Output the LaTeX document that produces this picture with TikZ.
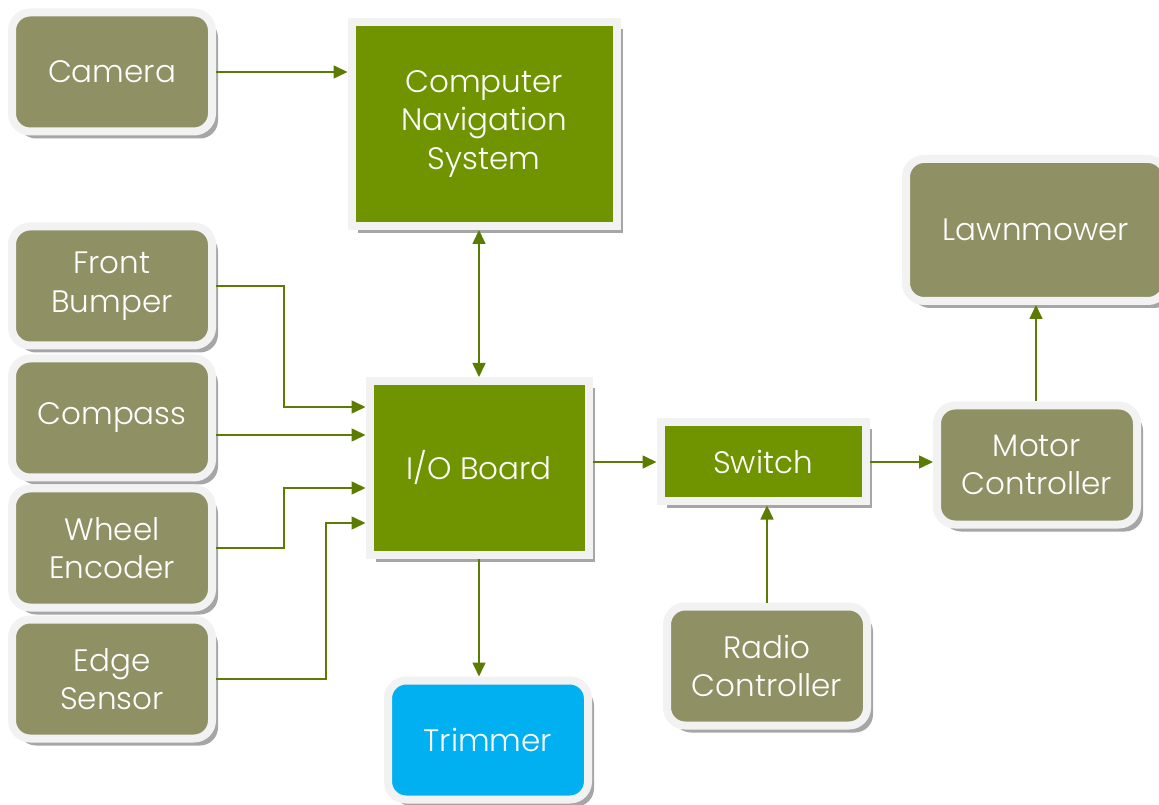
\documentclass[tikz,border=0pt]{standalone}
\usepackage{fontspec}
\setmainfont{Poppins}[UprightFont=* Light]
\usetikzlibrary{positioning}
\usetikzlibrary{arrows.meta}
\usetikzlibrary{shadows}
\usetikzlibrary{calc}

\definecolor{olivebox}{HTML}{8F9064}
\definecolor{greenbox}{HTML}{709400}
\definecolor{cyanbox}{HTML}{00B0F0}
\definecolor{rimgray}{HTML}{F2F2F2}
\definecolor{linkgreen}{HTML}{5B7C00}

\begin{document}
\begin{tikzpicture}[x = 1pt, y = 1pt,
	>={Triangle[length = 14pt, width = 13pt]},
	box/.style = {draw = rimgray, line width = 8pt, text = white, align = center,
		font = \fontsize{31}{38.5}\selectfont,
		drop shadow = {shadow xshift = 6pt, shadow yshift = -7pt, fill = black!35, opacity = 1}},
	sensor/.style = {box, fill = olivebox, rounded corners = 18pt,
		minimum width = 200pt, minimum height = 119pt},
	unit/.style = {box, fill = greenbox},
	tool/.style = {sensor, fill = cyanbox},
	link/.style = {draw = linkgreen, line width = 1.6pt, ->}]
	\useasboundingbox (0, 0) rectangle (1159, 804);

	% inputs on the left
	\node [sensor] (camera) at (112, 732) {Camera};
	\node [sensor] (bumper) at (112, 518) {Front\\Bumper};
	\node [sensor] (compass) at (112, 386) {Compass};
	\node [sensor] (wheel) at (112, 256) {Wheel\\Encoder};
	\node [sensor] (edge) at (112, 125) {Edge\\Sensor};

	% main units
	\node [unit, minimum width = 265pt, minimum height = 204pt] (cns) at (484, 680) {Computer\\Navigation\\System};
	\node [unit, minimum width = 219pt, minimum height = 174pt] (io) at (479, 336) {I/O Board};
	\node [unit, minimum width = 205pt, minimum height = 79pt] (switch) at (763, 342) {Switch};
	\node [tool] (trimmer) at (488, 64) {Trimmer};

	% right side
	\node [sensor] (motor) at (1037, 339) {Motor\\Controller};
	\node [sensor, minimum width = 260pt, minimum height = 142pt] (lawn) at (1036, 574) {Lawnmower};
	\node [sensor] (radio) at (767, 138) {Radio\\Controller};

	% ports on the I/O board
	\coordinate (in1) at ([yshift = 61pt] io.west);
	\coordinate (in2) at ([yshift = 33pt] io.west);
	\coordinate (in3) at ([yshift = -20pt] io.west);
	\coordinate (in4) at ([yshift = -55pt] io.west);

	\draw [link] (camera) -- (camera -| cns.west);
	\draw [link, <->] (io.north |- cns.south) -- (io.north);
	\draw [link] (bumper.east) -- ++(68, 0) |- (in1);
	\draw [link] (compass.east |- in2) -- (in2);
	\draw [link] (wheel.east) -- ++(68, 0) |- (in3);
	\draw [link] (edge.east) -- ++(110, 0) |- (in4);
	\draw [link] (io.south -| io.north) -- (io.south |- trimmer.north);
	\draw [link] (io.east |- switch.west) -- (switch.west);
	\draw [link] (radio.north) -- (radio.north |- switch.south);
	\draw [link] (switch.east) -- (switch.east -| motor.west);
	\draw [link] (motor.north -| lawn.south) -- (lawn.south);
\end{tikzpicture}
\end{document}
